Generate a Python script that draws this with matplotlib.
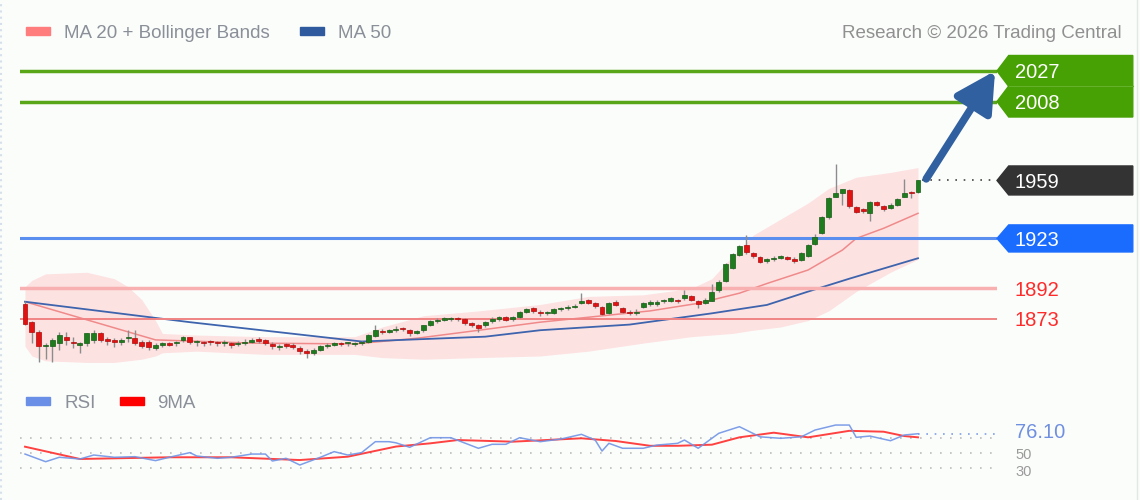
import matplotlib
matplotlib.use("Agg")
import numpy as np
import matplotlib.pyplot as plt
from matplotlib.patches import Rectangle, Polygon
from matplotlib.lines import Line2D
from matplotlib.transforms import blended_transform_factory

plt.rcParams['font.family'] = ['Liberation Sans', 'DejaVu Sans']

# daily candles (oldest -> newest)
opens = [1882, 1871, 1865, 1856, 1856, 1858, 1862, 1859, 1857, 1858,
         1860, 1864.5, 1860, 1859.5, 1859, 1861, 1861, 1858.5, 1859, 1855,
         1857, 1857.5, 1858, 1860, 1861.5, 1858.5, 1858.5, 1859, 1858.5, 1858,
         1858, 1857.5, 1858, 1859, 1860, 1860, 1857.5, 1855.5, 1857, 1857,
         1855, 1853, 1852, 1854, 1856, 1857, 1858, 1858, 1857.5, 1858,
         1858.5, 1862.5, 1865.5, 1865, 1866, 1867, 1866, 1864.5, 1866, 1869.5,
         1871.5, 1872.5, 1873, 1873.5, 1873, 1870, 1869, 1869, 1871.5, 1873,
         1874, 1873, 1874, 1877.5, 1879.5, 1877.5, 1876.5, 1877, 1879, 1879.5,
         1880.5, 1882.7, 1884.5, 1883, 1880.6, 1876.5, 1883.7, 1879.6, 1877.5, 1876.5,
         1880.6, 1882, 1882, 1884, 1884.3, 1884.5, 1885.8, 1887, 1884, 1883,
         1884.3, 1891, 1896.8, 1904.5, 1912.8, 1919, 1913.8, 1911.7, 1909, 1910,
         1911, 1911, 1910.5, 1909.6, 1912, 1919.5, 1926.6, 1936.5, 1949, 1951.4,
         1953, 1942.3, 1941, 1938.6, 1945.8, 1943, 1942, 1943.8, 1949, 1951.5,
         1952]
closes = [1870, 1865, 1856, 1857, 1860, 1863, 1860, 1858, 1857.5, 1864,
          1864.5, 1860, 1859.5, 1859, 1860, 1861.5, 1858, 1856.5, 1855.5, 1857,
          1857.5, 1857, 1858.5, 1862, 1859, 1858.5, 1858, 1858.5, 1858, 1858.5,
          1857, 1858, 1859, 1859.5, 1859.5, 1858, 1856, 1856.5, 1856.5, 1855.5,
          1853, 1852, 1854, 1856, 1857, 1858, 1857.5, 1858, 1858, 1858.5,
          1863, 1866, 1865, 1866, 1867, 1866.5, 1864, 1865, 1869, 1871.5,
          1872.5, 1873, 1873.5, 1873, 1870.5, 1869.5, 1867.5, 1871, 1873, 1874,
          1872.5, 1874, 1877.5, 1879, 1878, 1876.5, 1877, 1879, 1879.5, 1880.5,
          1881, 1884.3, 1883, 1881, 1876, 1882.7, 1881.7, 1877.5, 1876.5, 1877.5,
          1882.7, 1883.5, 1883.5, 1884.5, 1885.8, 1884, 1887.8, 1884.5, 1882, 1885,
          1890, 1896, 1907, 1913.3, 1918, 1914.3, 1912, 1908.6, 1910, 1911,
          1911.5, 1910.5, 1909, 1914, 1919, 1924, 1936.5, 1948, 1951, 1953.5,
          1943, 1939.6, 1940, 1945.8, 1943.8, 1941, 1944, 1947.3, 1951.4, 1951,
          1959]
highs = [1884, 1872, 1866, 1858, 1861, 1865, 1865, 1862, 1859, 1864.5,
         1866, 1865, 1861.5, 1861, 1861, 1866, 1866, 1860, 1860, 1858,
         1858.5, 1859, 1859.5, 1862.5, 1862, 1860, 1859.5, 1860, 1859.5, 1860,
         1859, 1859.5, 1860.5, 1861, 1861.5, 1860.5, 1858.5, 1857.5, 1858, 1858,
         1856, 1854.5, 1855, 1857, 1858, 1859, 1859, 1859, 1859, 1859.5,
         1863.5, 1869, 1867, 1867, 1868.5, 1868, 1866.5, 1866, 1869.5, 1872.5,
         1873.5, 1874, 1874.5, 1874.5, 1873.5, 1871, 1870, 1872, 1874, 1875,
         1875, 1875, 1878, 1880, 1880.5, 1878.5, 1878, 1880, 1880.5, 1881.5,
         1882, 1889, 1885.5, 1883.5, 1881, 1883.5, 1885, 1880.5, 1878.5, 1879,
         1883.5, 1884.5, 1884.5, 1885.5, 1886.5, 1885.5, 1891, 1888, 1885, 1886,
         1895, 1897, 1907.5, 1914, 1919, 1925, 1914.5, 1912, 1911, 1912,
         1912.5, 1912, 1911.5, 1914.5, 1919.5, 1926, 1937, 1948.5, 1969, 1954,
         1953.5, 1943, 1942, 1946.5, 1946.5, 1943.5, 1945, 1948, 1960, 1952.5,
         1959.5]
lows = [1869, 1858, 1846, 1848, 1846, 1854, 1857, 1855, 1852, 1856,
        1858, 1859, 1857, 1855.5, 1857, 1859, 1857, 1855, 1854, 1854,
        1855.5, 1856, 1856.5, 1859, 1857.5, 1856.5, 1856.5, 1857, 1856.5, 1856.5,
        1855, 1856, 1857, 1858, 1858, 1857, 1854.5, 1854, 1855, 1854.5,
        1851.5, 1849, 1850.5, 1853, 1855, 1856, 1856, 1856.5, 1856.5, 1857,
        1858, 1862, 1863.5, 1864, 1865, 1865.5, 1862.5, 1863.5, 1865, 1868.5,
        1870.5, 1871.5, 1872, 1872, 1869.5, 1868, 1865, 1868, 1870.5, 1872,
        1871.5, 1872, 1873.5, 1876.5, 1877, 1875, 1875.5, 1876, 1878, 1878.5,
        1879.5, 1882, 1882, 1880, 1875.5, 1876, 1881, 1876.5, 1875.5, 1875.5,
        1879.5, 1881, 1881, 1883, 1883.5, 1883, 1885, 1884, 1880, 1882,
        1884, 1890, 1896, 1904, 1912, 1913.5, 1911, 1907.5, 1908, 1909,
        1910, 1909.5, 1908, 1909, 1911.5, 1919, 1926, 1935, 1948.5, 1944,
        1942, 1938.5, 1939, 1934, 1943, 1940, 1941, 1943, 1948.5, 1948,
        1951.5]

# moving averages / bands, read at sampled candles
ma20_idx = [0, 19, 33, 48, 57, 67, 75, 83, 91, 98, 104, 108, 114, 119, 121, 125, 130]
ma20_val = [1883.7, 1860, 1858, 1857.5, 1861, 1866.5, 1871, 1874.5, 1878, 1882.7,
            1889, 1895, 1903.4, 1915.8, 1923, 1929.3, 1938.6]
ma50_idx = [0, 24, 49, 67, 75, 88, 100, 108, 114, 120, 130]
ma50_val = [1883.7, 1871, 1859, 1862, 1866, 1869.5, 1876.5, 1881.7, 1890, 1898, 1910.7]
bb_idx = [0, 1, 3, 9, 13, 15, 17, 19, 20, 25, 35, 48, 52, 58, 66, 75, 82, 90, 97,
          100, 103, 106, 110, 114, 117, 121, 126, 130]
bb_up = [1893, 1897, 1901, 1902, 1898, 1893, 1885, 1872, 1864, 1863, 1862, 1862,
         1868, 1875, 1878, 1882, 1887, 1888, 1892, 1898, 1912, 1925, 1935, 1945,
         1954, 1961, 1964, 1967]
bb_lo = [1856, 1850, 1847, 1846, 1846, 1847, 1848, 1850, 1852, 1853, 1851, 1851,
         1849, 1848, 1849, 1850, 1853, 1858, 1862, 1863, 1864, 1866, 1868, 1872,
         1878, 1890, 1902, 1910]

# RSI panel
rsi_idx = [0, 3, 5, 8, 10, 13, 16, 19, 21, 24, 25, 28, 30, 33, 35, 36, 38, 40, 43,
           45, 47, 49, 51, 53, 54, 56, 59, 62, 66, 68, 70, 72, 75, 78, 81, 83, 84,
           85, 87, 90, 92, 95, 96, 98, 101, 104, 107, 110, 113, 115, 118, 120,
           121, 123, 126, 128, 130]
rsi_val = [49, 38.8, 44.7, 42.4, 47.7, 44.7, 45.5, 40.2, 44.7, 50.9, 46.4, 43.3,
           44.7, 49, 49, 39.7, 43.3, 34.4, 44.7, 52.2, 47.7, 50.9, 65.5, 65.5, 64,
           58, 70.8, 70.8, 56.7, 62, 62, 70.8, 65.5, 69, 75.3, 67.7, 53, 63.3, 56.7,
           56.7, 61, 63.3, 67.7, 56.7, 76.7, 85.5, 72, 70, 72, 81, 87.7, 87.7, 71.3,
           73, 66.8, 74.4, 76.1]
ma9_idx = [0, 8, 21, 30, 40, 47, 54, 59, 63, 71, 81, 86, 91, 95, 100, 104, 109,
           114, 120, 125, 128, 130]
ma9_val = [58.8, 42.4, 44.7, 44.7, 41, 45.5, 59, 63.3, 67.7, 65.5, 70, 66.4, 60,
           60, 61.5, 71.3, 77.5, 71.3, 80, 78.8, 73, 71.3]

resistances = [2027, 2008]
pivot = 1923
supports = [1892, 1873]
last_price = 1959
rsi_last = 76.10

bg = '#fbfdfb'
fig = plt.figure(figsize=(11.4, 5), dpi=100, facecolor=bg)

ax = fig.add_axes([20/1140, 0.25, 977/1140, 0.64])
ax.set_facecolor(bg)
ax.set_xlim(-0.73, 141.5)
ax.set_ylim(1838.2, 2036.9)
ax.axis('off')
tr = blended_transform_factory(ax.transAxes, ax.transData)

ax.fill_between(bb_idx, bb_lo, bb_up, color='#fde2e2', lw=0, zorder=1)
ax.plot(ma20_idx, ma20_val, color='#f08a8a', lw=1.1, zorder=2)
ax.plot(ma50_idx, ma50_val, color='#3e64ad', lw=1.3, zorder=2)

for lvl in resistances:
    ax.axhline(lvl, color='#5aa619', lw=2.5, zorder=2)
ax.axhline(pivot, color='#5a8ff0', lw=2.2, zorder=2)
ax.axhline(supports[0], color='#f8b0b0', lw=2.5, zorder=2)
ax.axhline(supports[1], color='#f08484', lw=1.4, zorder=2)

# candles
x = np.arange(len(closes))
o = np.array(opens); c = np.array(closes)
up = c >= o
ax.vlines(x, lows, highs, color='#8c8c8c', lw=1, zorder=3)
body_h = np.maximum(np.abs(c - o), 0.8)
ax.bar(x, body_h, bottom=np.minimum(o, c), width=0.72,
       color=np.where(up, '#1e7b1e', '#e01212'),
       edgecolor=np.where(up, '#155c15', '#b00a0a'), lw=0.5, zorder=4)

# last price dotted extension
ax.plot([x[-1] + 0.6, 141.5], [last_price, last_price], color='#444444',
        lw=1.2, ls=(0, (1, 4)), zorder=3)

# arrow to target
ax.annotate('', xy=(0.998, resistances[0]), xycoords=tr,
            xytext=(x[-1] + 1.2, last_price + 1), textcoords='data',
            arrowprops=dict(arrowstyle='-|>,head_length=1.2,head_width=0.65',
                            color='#30609f', lw=5.5, mutation_scale=20,
                            shrinkA=0, shrinkB=0), zorder=6)


def tag(lvl, col, h):
    pts = [(1.0, lvl), (1.012, lvl + h), (1.139, lvl + h), (1.139, lvl - h),
           (1.012, lvl - h)]
    ax.add_patch(Polygon(pts, closed=True, transform=tr, color=col,
                         clip_on=False, zorder=5))
    ax.text(1.0184, lvl, str(lvl), transform=tr, color='white', fontsize=14.5,
            va='center_baseline', ha='left', clip_on=False, zorder=7)


tag(resistances[1], '#47a004', 9.6)
tag(resistances[0], '#47a004', 9.6)
ax.plot([1.012, 1.139], [sum(resistances) / 2] * 2, transform=tr, color='#62b22a',
        lw=0.8, clip_on=False, zorder=6)
tag(last_price, '#333333', 9.0)
tag(pivot, '#1a6cff', 8.4)
for lvl in supports:
    ax.text(1.0184, lvl, str(lvl), transform=tr, color='#ff2a2a', fontsize=14.5,
            va='center_baseline', ha='left', clip_on=False)

# RSI axes
ax2 = fig.add_axes([20/1140, 15/500, 977/1140, 70/500])
ax2.set_facecolor(bg)
ax2.set_xlim(-0.73, 141.5)
ax2.set_ylim(7.7, 101.1)
ax2.axis('off')
for lvl in [70, 50, 30]:
    ax2.axhline(lvl, color='#bcbcbc', lw=1.2, ls=(0, (1, 5)), zorder=1)
ax2.plot(ma9_idx, ma9_val, color='#ff2020', lw=1.4, alpha=0.85, zorder=2)
ax2.plot(rsi_idx, rsi_val, color='#7094e6', lw=1.1, alpha=0.9, zorder=3)
ax2.plot([rsi_idx[-1], 141.5], [rsi_last, rsi_last], color='#7f9ee8', lw=1.2,
         ls=(0, (1, 4)), zorder=2)
tr2 = blended_transform_factory(ax2.transAxes, ax2.transData)
ax2.text(1.0184, 24.5, '30', transform=tr2, color='#9a9a9a', fontsize=10.5,
         va='center', ha='left', clip_on=False)
ax2.text(1.0184, 47.5, '50', transform=tr2, color='#9a9a9a', fontsize=10.5,
         va='center', ha='left', clip_on=False)
ax2.text(1.0184, 77.5, f'{rsi_last:.2f}', transform=tr2, color='#6f8fe0',
         fontsize=14.5, va='center', ha='left', clip_on=False)

# legends
def swatch(x0, y0, col, h=7):
    fig.patches.append(Rectangle((x0/1140, 1 - (y0 + h/2)/500), 24/1140, h/500,
                                 transform=fig.transFigure, color=col))


txt = '#8a8f98'
swatch(26, 31, '#ff7d7d')
fig.text(64/1140, 1 - 33/500, 'MA 20 + Bollinger Bands', color=txt, fontsize=13.5, va='center')
swatch(300, 31, '#2f5b9e')
fig.text(338/1140, 1 - 33/500, 'MA 50', color=txt, fontsize=13.5, va='center')
fig.text(1122/1140, 1 - 33/500, 'Research \u00a9 2026 Trading Central', color='#909090',
         fontsize=13.5, va='center', ha='right')
swatch(26, 401, '#6a8fe6', h=8)
fig.text(64/1140, 1 - 403/500, 'RSI', color=txt, fontsize=13.5, va='center')
swatch(120, 401, '#ff0000', h=8)
fig.text(157/1140, 1 - 403/500, '9MA', color=txt, fontsize=13.5, va='center')

# faint frame edges
fig.lines.append(Line2D([1/1140, 1/1140], [0, 1], transform=fig.transFigure,
                        color='#d5e0ea', lw=1.5, ls=(0, (1, 2))))
fig.lines.append(Line2D([1137/1140, 1137/1140], [0, 1], transform=fig.transFigure,
                        color='#e4e8e4', lw=1))

fig.savefig('out.png', dpi=100, facecolor=bg)
